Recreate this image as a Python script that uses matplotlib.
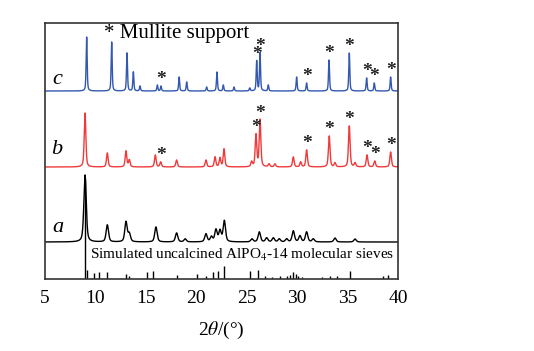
import numpy as np
import matplotlib
matplotlib.use("Agg")
import matplotlib.pyplot as plt

plt.rcParams['font.family'] = ['Liberation Serif', 'DejaVu Serif']
plt.rcParams['mathtext.fontset'] = 'stix'

# ---- data (2theta positions, intensities in arbitrary units) ----
a_pos = [8.97, 11.18, 13.03, 13.36, 16.0, 18.05, 18.9, 20.96, 21.5, 21.95, 22.35, 22.78,
         25.52, 26.25, 26.98, 27.64, 28.23, 28.96, 29.62, 30.28, 30.94, 31.6, 33.75, 35.74]
a_int = [67, 17, 20, 8, 15, 9, 3, 8, 5, 12, 11, 21,
         3, 10, 4, 4, 3, 3, 11, 6, 10, 3, 4, 3]

b_pos = [8.97, 11.18, 13.03, 13.36, 15.94, 16.47, 18.05, 20.96, 21.86, 22.35, 22.75, 25.49,
         25.92, 26.32, 27.21, 27.8, 29.62, 30.35, 30.94, 33.18, 33.75, 35.17, 35.74, 36.93, 37.69, 39.27]
b_int = [54, 14, 16, 7, 12, 5, 7, 7, 10, 9, 18, 5,
         32, 47, 3, 3, 10, 5, 17, 31, 4, 41, 4, 12, 6, 15]

c_pos = [9.13, 11.61, 13.13, 13.76, 14.42, 16.14, 16.5, 18.3, 19.05, 21.03, 22.05, 22.68,
         23.74, 25.3, 25.99, 26.32, 27.14, 29.95, 30.94, 33.16, 35.17, 36.89, 37.65, 39.27]
c_int = [54, 49, 38, 19, 5, 6, 5, 14, 9, 4, 19, 6,
         4, 3, 30, 38, 6, 14, 8, 31, 38, 13, 8, 14]

sim_pos = [9.0, 9.2, 9.86, 10.35, 11.1, 13.0, 13.36, 15.08, 15.68, 18.05, 20.04, 20.96, 21.69,
           22.18, 22.75, 25.33, 26.15, 26.81, 27.48, 28.3, 28.96, 29.29, 29.62, 29.88, 30.1,
           30.45, 32.43, 33.26, 33.92, 35.2, 38.54, 39.04]
sim_int = [100, 9, 6, 7, 7, 5, 3, 7, 8, 4, 5, 3, 7,
           8, 13, 8, 9, 3, 2, 3, 3, 4, 7, 5, 3,
           2, 2, 3, 3, 8, 3, 4]

# mullite reflections marked with '*'
mullite_b = [16.47, 25.92, 26.32, 30.94, 33.18, 35.17, 36.93, 37.69, 39.27]
mullite_c = [16.5, 25.99, 26.32, 30.94, 33.16, 35.17, 36.89, 37.65, 39.27]

offsets = {'a': 37, 'b': 112, 'c': 188}
widths = {'a': 0.28, 'b': 0.19, 'c': 0.12}


def profile(x, pos, inten, w):
    y = np.zeros_like(x)
    for p, h in zip(pos, inten):
        g = np.exp(-4 * np.log(2) * ((x - p) / w) ** 2)
        l = 1.0 / (1.0 + 4 * ((x - p) / w) ** 2)
        y += h * (0.5 * g + 0.5 * l)
    return y


x = np.linspace(5, 40, 3501)
ya = profile(x, a_pos, a_int, widths['a']) + offsets['a']
yb = profile(x, b_pos, b_int, widths['b']) + offsets['b']
yc = profile(x, c_pos, c_int, widths['c']) + offsets['c']

fig = plt.figure(figsize=(5.34, 3.51), dpi=100)
ax = fig.add_axes([45 / 534, 1 - 279 / 351, 353 / 534, 256 / 351])

ax.plot(x, ya, color='black', lw=1.0)
ax.plot(x, yb, color='#f03a3a', lw=1.0)
ax.plot(x, yc, color='#3358b0', lw=1.0)
ax.vlines(sim_pos, 0, sim_int, color='black', lw=1.0)

# stars above mullite peaks
for xs, yy in ((mullite_b, yb), (mullite_c, yc)):
    for p in xs:
        top = yy[(x > p - 0.1) & (x < p + 0.1)].max()
        ax.text(p, top + 6, '*', ha='center', va='center', fontsize=14,
                fontweight='bold', color='#222222')

ax.text(10.85, 245, '* Mullite support', ha='left', va='center', fontsize=15)
ax.text(9.46, 24, r'Simulated uncalcined AlPO$_{4}$-14 molecular sieves',
        ha='left', va='center', fontsize=11)
ax.text(6.25, 51, 'a', style='italic', fontsize=16, ha='center', va='center')
ax.text(6.2, 129, 'b', style='italic', fontsize=16, ha='center', va='center')
ax.text(6.2, 199, 'c', style='italic', fontsize=16, ha='center', va='center')

ax.set_xlim(5, 40)
ax.set_ylim(0, 256)
ax.set_xticks([5, 10, 15, 20, 25, 30, 35, 40])
ax.set_yticks([])
ax.tick_params(axis='x', length=0, pad=8, labelsize=14)
for s in ax.spines.values():
    s.set_color('#333333')
    s.set_linewidth(1.2)
ax.set_xlabel(r'2$\theta$/(°)', fontsize=14, labelpad=9)

fig.savefig('out.png', dpi=100)
